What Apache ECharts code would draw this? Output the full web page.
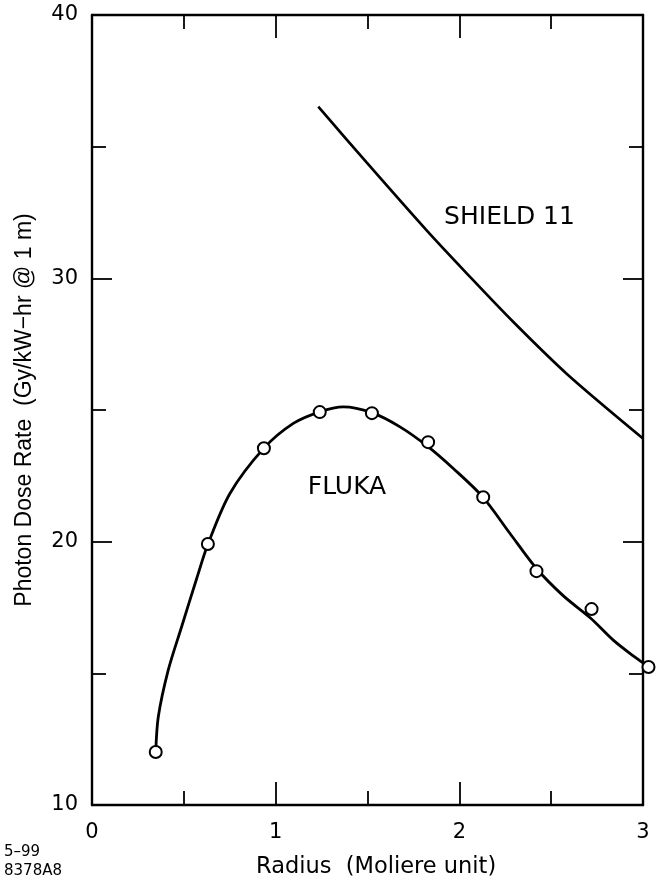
<!DOCTYPE html>
<html><head><meta charset="utf-8">
<script src="https://cdn.jsdelivr.net/npm/echarts@6/dist/echarts.min.js"></script>
<style>html,body{margin:0;padding:0;background:#fff}#c{width:664px;height:886px}</style>
</head><body><div id="c"></div>
<script>
const xTickLabels = [0, 1, 2, 3];
const yTickLabels = [10, 20, 30, 40];
// FLUKA Monte Carlo points
const flukaX = [0.347, 0.631, 0.936, 1.24, 1.524, 1.83, 2.13, 2.42, 2.72, 3.03];
const flukaY = [12.01, 19.91, 23.55, 24.92, 24.88, 23.78, 21.69, 18.88, 17.44, 15.24];
// FLUKA fitted curve
const flukaFitX = [0.347, 0.361, 0.415, 0.488, 0.57, 0.631, 0.751, 0.936, 1.096, 1.24, 1.368, 1.523, 1.677, 1.831, 1.967, 2.126, 2.275, 2.42, 2.565, 2.714, 2.838, 2.947, 3.0];
const flukaFitY = [12.0, 13.35, 15.12, 16.77, 18.6, 19.9, 21.83, 23.55, 24.49, 24.93, 25.12, 24.9, 24.36, 23.6, 22.78, 21.71, 20.32, 18.98, 17.95, 17.1, 16.26, 15.66, 15.4];
// SHIELD 11 curve
const shieldX = [1.232, 1.495, 1.822, 2.04, 2.293, 2.584, 3.0];
const shieldY = [36.52, 34.4, 31.82, 30.19, 28.35, 26.38, 23.92];

const seriesTexts = { shield: 'SHIELD 11', fluka: 'FLUKA' };
const xTitle = 'Radius  (Moliere unit)';
const yTitle = 'Photon Dose Rate  (Gy/kW\u2212hr @ 1 m)';
const figIds = ['5\u201399', '8378A8'];

const zip = (xs, ys) => xs.map((x, i) => [x, ys[i]]);
const FONT = '"DejaVu Sans", sans-serif';

function axisBase(pos, showLabel, isX) {
  const ticks = isX ? xTickLabels : yTickLabels;
  return {
    type: 'value',
    position: pos,
    min: ticks[0],
    max: ticks[ticks.length - 1],
    interval: ticks[1] - ticks[0],
    axisLine: { show: true, onZero: false, lineStyle: { color: '#000', width: 2.4 } },
    axisTick: { show: true, inside: true, length: isX ? 23 : 20, lineStyle: { color: '#000', width: 1.8 } },
    minorTick: { show: true, splitNumber: 2, length: 14, lineStyle: { color: '#000', width: 1.8 } },
    splitLine: { show: false },
    minorSplitLine: { show: false },
    axisLabel: {
      show: showLabel,
      margin: isX ? 17 : 14,
      color: '#000',
      fontSize: 21,
      fontFamily: FONT
    }
  };
}

const yMain = axisBase('left', true, false);
yMain.name = yTitle;
yMain.nameLocation = 'middle';
yMain.nameGap = 56;
yMain.nameTextStyle = { color: '#000', fontSize: 23, fontFamily: '"Liberation Sans", Arial, sans-serif' };

const chart = echarts.init(document.getElementById('c'), null, { renderer: 'canvas' });
chart.setOption({
  backgroundColor: '#fff',
  animation: false,
  grid: { left: 92, right: 21, top: 15, bottom: 81 },
  xAxis: [axisBase('bottom', true, true), axisBase('top', false, true)],
  yAxis: [yMain, axisBase('right', false, false)],
  series: [
    {
      type: 'line', xAxisIndex: 0, yAxisIndex: 0,
      data: zip(shieldX, shieldY), symbol: 'none', smooth: 0.3,
      lineStyle: { color: '#000', width: 2.7 }
    },
    {
      type: 'line', xAxisIndex: 0, yAxisIndex: 0,
      data: zip(flukaFitX, flukaFitY), symbol: 'none', smooth: 0.3,
      lineStyle: { color: '#000', width: 2.8 }
    },
    {
      type: 'scatter', xAxisIndex: 0, yAxisIndex: 0, clip: false,
      data: zip(flukaX, flukaY), symbol: 'circle', symbolSize: 12,
      itemStyle: { color: '#fff', borderColor: '#000', borderWidth: 2, opacity: 1 },
      z: 5
    }
  ],
  graphic: [
    { type: 'text', x: 509.5, y: 217, style: { text: seriesTexts.shield, fontSize: 25, fontFamily: FONT, fill: '#000', align: 'center', verticalAlign: 'middle' } },
    { type: 'text', x: 347, y: 487, style: { text: seriesTexts.fluka, fontSize: 25, fontFamily: FONT, fill: '#000', align: 'center', verticalAlign: 'middle' } },
    { type: 'text', x: 256, y: 867.5, style: { text: xTitle, fontSize: 22.5, fontFamily: FONT, fill: '#000', align: 'left', verticalAlign: 'middle' } },
    { type: 'text', x: 4, y: 852, style: { text: figIds[0], fontSize: 15, fontFamily: FONT, fill: '#000', align: 'left', verticalAlign: 'middle' } },
    { type: 'text', x: 4, y: 871, style: { text: figIds[1], fontSize: 15, fontFamily: FONT, fill: '#000', align: 'left', verticalAlign: 'middle' } }
  ]
});
</script></body></html>
